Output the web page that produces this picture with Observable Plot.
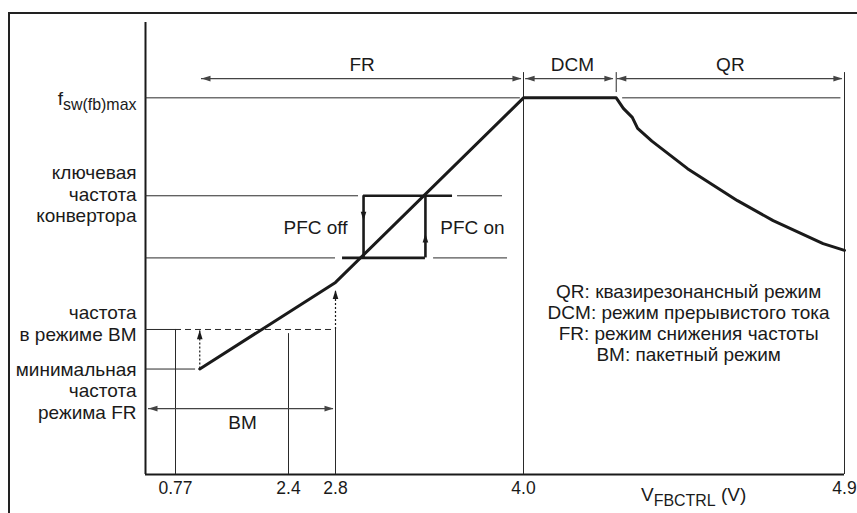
<!DOCTYPE html>
<html>
<head>
<meta charset="utf-8">
<script src="https://cdn.jsdelivr.net/npm/d3@7"></script>
<script src="https://cdn.jsdelivr.net/npm/@observablehq/plot@0.6"></script>
<style>
  body { margin: 0; background: #fff; }
  #wrap { position: relative; width: 857px; height: 513px; overflow: hidden; background: #fff; }
  #wrap svg { position: absolute; left: 0; top: 0; }
  #frame { position: absolute; left: 8px; top: 12px; width: 900px; height: 600px; border: 2px solid #222; pointer-events: none; }
</style>
</head>
<body>
<div id="wrap"><div id="frame"></div></div>
<script>
// ---- Data (schematic voltage V_FBCTRL in volts, frequency in relative units, f_max = 100) ----
const xBreaks = [0, 0.77, 2.4, 2.8, 4.0, 4.9];          // schematic (non-uniform) axis breakpoints
const xTicks = [0.77, 2.4, 2.8, 4.0, 4.9];
const xTickLabels = ["0.77", "2.4", "2.8", "4.0", "4.9"];

// main characteristic curve f_sw(V_FBCTRL)
const curveV = [1.12, 2.8, 4.0, 4.26, 4.28, 4.305, 4.32, 4.36, 4.46, 4.60, 4.70, 4.84, 4.90];
const curveF = [28, 51, 100, 100, 97.2, 94.8, 91.9, 88.5, 81.2, 72.7, 67.4, 61.3, 59.5];

// frequency levels
const fMax = 100, fKeyHi = 74, fKeyLo = 57.5, fBM = 38.5, fMin = 28;

// thin horizontal reference lines
const hLevel = [fMax, fMax, fKeyHi, fKeyHi, fKeyLo, fKeyLo, fMin, fBM];
const hFrom  = [0, 4.278, 0, 3.579, 0, 3.426, 0, 0];
const hTo    = [3.98, 4.89, 2.947, 3.866, 2.8, 3.898, 1.06, 0.77];

// dashed BM level
const dashFrom = [0.77], dashTo = [2.8], dashLevel = [fBM];

// thin vertical lines
const vAt   = [0.77, 2.4, 2.8, 4.0, 4.9, 4.26];
const vFrom = [0, 0, 0, 0, 0, 101.4];
const vTo   = [fBM, 37.4, fBM, 106.7, 106.7, 106.7];

// dotted vertical arrows (BM -> FR transitions)
const dotAt = [1.12, 2.8], dotFrom = [fMin, fBM], dotTo = [38.3, 49];

// hysteresis (PFC on/off) thick segments
const hystLevel = [fKeyHi, fKeyLo], hystFrom = [2.979, 2.845], hystTo = [3.547, 3.374];
const hystV = [2.979, 3.374];
const hystArrowV = [2.979, 3.374], hystArrowF = [67.4, 64], hystArrowDir = ["down", "up"];

// mode range arrows
const spanNames = ["BM", "FR", "DCM", "QR"];
const spanLevel = [17.5, 105.1, 105.1, 105.1];
const spanFrom  = [0.077, 1.145, 4.006, 4.263];
const spanTo    = [2.783, 3.987, 4.252, 4.894];
const spanLabelV = [1.737, 2.97, 4.137, 4.58];
const spanLabelF = [13.6, 108.8, 108.8, 108.8];

// y-side labels
const yLabels = ["f_{sw(fb)max}", "ключевая\nчастота\nконвертора", "частота\nв режиме BM", "минимальная\nчастота\nрежима FR"];
const yLabelF = [100, 74.5, 40.2, 22.3];

const pfcLabels = ["PFC off", "PFC on"], pfcV = [2.63, 3.674], pfcF = [65.6, 65.6];

const legendText = "QR: квазирезонансный режим\nDCM: режим прерывистого тока\nFR: режим снижения частоты\nBM: пакетный режим";
const legendV = 4.463, legendF = 40.2;

const xTitle = "V_{FBCTRL} (V)", xTitleV = 4.477, xTitleF = -5.4;

// ---- Build tables ----
const curve = curveV.map((v, i) => ({v, f: curveF[i]}));
const thinH = hLevel.map((f, i) => ({f, a: hFrom[i], b: hTo[i]}));
const dashH = dashLevel.map((f, i) => ({f, a: dashFrom[i], b: dashTo[i]}));
const thinV = vAt.map((v, i) => ({v, a: vFrom[i], b: vTo[i]}));
const dotV = dotAt.map((v, i) => ({v, a: dotFrom[i], b: dotTo[i]}));
const hystH = hystLevel.map((f, i) => ({f, a: hystFrom[i], b: hystTo[i]}));
const hystVert = hystV.map(v => ({v, a: fKeyLo, b: fKeyHi}));
const spans = spanLevel.map((f, i) => ({f, a: spanFrom[i], b: spanTo[i], name: spanNames[i], lv: spanLabelV[i], lf: spanLabelF[i]}));
const yLab = yLabels.map((t, i) => ({t, f: yLabelF[i]}));
const pfc = pfcLabels.map((t, i) => ({t, v: pfcV[i], f: pfcF[i]}));

// arrowhead symbols (tip at the anchor point)
const L = 9, W = 2.8;
const headUp    = {draw(c) { c.moveTo(0, 0); c.lineTo(W, L); c.lineTo(-W, L); c.closePath(); }};
const headDown  = {draw(c) { c.moveTo(0, 0); c.lineTo(W, -L); c.lineTo(-W, -L); c.closePath(); }};
const headLeft  = {draw(c) { c.moveTo(0, 0); c.lineTo(L, W); c.lineTo(L, -W); c.closePath(); }};
const headRight = {draw(c) { c.moveTo(0, 0); c.lineTo(-L, W); c.lineTo(-L, -W); c.closePath(); }};

const ink = "#1a1a1a", thin = "#2a2a2a", arrowInk = "#444";
const font = "'Liberation Sans', Arial, Helvetica, sans-serif";
const fs = 19;

const upHeads = [
  ...dotV.map(d => ({v: d.v, f: d.b})),
  ...hystArrowV.map((v, i) => ({v, f: hystArrowF[i], d: hystArrowDir[i]})).filter(d => d.d === "up")
];
const downHeads = hystArrowV.map((v, i) => ({v, f: hystArrowF[i], d: hystArrowDir[i]})).filter(d => d.d === "down");

const chart = Plot.plot({
  width: 857,
  height: 513,
  marginBottom: 39,
  marginTop: 22,
  marginLeft: 145,
  marginRight: 13,
  style: {fontFamily: font, fontSize: "17.5px", color: ink, background: "transparent", overflow: "visible"},
  x: {type: "linear", domain: xBreaks, range: [145, 175, 288, 335, 523, 844],
      ticks: xTicks, tickFormat: d => xTickLabels[xTicks.indexOf(d)], tickSize: 0, tickPadding: 7, label: null},
  y: {domain: [0, 120], range: [474, 22], axis: null},
  marks: [
    // axes lines
    Plot.ruleX([0], {y1: 0, y2: 120, stroke: ink, strokeWidth: 2}),
    Plot.ruleY([0], {x1: 0, x2: 4.9, stroke: ink, strokeWidth: 2}),
    // reference lines
    Plot.ruleY(thinH, {y: "f", x1: "a", x2: "b", stroke: thin, strokeWidth: 1}),
    Plot.ruleY(dashH, {y: "f", x1: "a", x2: "b", stroke: thin, strokeWidth: 1, strokeDasharray: "6,4"}),
    Plot.ruleX(thinV, {x: "v", y1: "a", y2: "b", stroke: thin, strokeWidth: 1}),
    Plot.ruleX(dotV, {x: "v", y1: "a", y2: "b", stroke: ink, strokeWidth: 1.2, strokeDasharray: "2,2"}),
    // mode span arrows
    Plot.ruleY(spans, {y: "f", x1: "a", x2: "b", stroke: arrowInk, strokeWidth: 1.2}),
    Plot.dot(spans, {x: "a", y: "f", symbol: headLeft, r: 4, fill: arrowInk, stroke: "none"}),
    Plot.dot(spans, {x: "b", y: "f", symbol: headRight, r: 4, fill: arrowInk, stroke: "none"}),
    Plot.text(spans, {x: "lv", y: "lf", text: "name", fill: ink, fontSize: fs}),
    // hysteresis box
    Plot.ruleY(hystH, {y: "f", x1: "a", x2: "b", stroke: ink, strokeWidth: 2.6}),
    Plot.ruleX(hystVert, {x: "v", y1: "a", y2: "b", stroke: ink, strokeWidth: 2.6}),
    Plot.dot(upHeads, {x: "v", y: "f", symbol: headUp, r: 4, fill: ink, stroke: "none"}),
    Plot.dot(downHeads, {x: "v", y: "f", symbol: headDown, r: 4, fill: ink, stroke: "none"}),
    // main curve
    Plot.line(curve, {x: "v", y: "f", stroke: ink, strokeWidth: 3}),
    // labels
    Plot.text(yLab, {x: 0, y: "f", text: "t", textAnchor: "end", dx: -9, lineHeight: 1.13, fill: ink, fontSize: fs}),
    Plot.text(pfc, {x: "v", y: "f", text: "t", fill: ink, fontSize: fs}),
    Plot.text([legendText], {x: legendV, y: legendF, text: d => d, lineHeight: 1.1, fill: ink, fontSize: fs}),
    Plot.text([xTitle], {x: xTitleV, y: xTitleF, text: d => d, fill: ink, fontSize: fs})
  ]
});

// render subscripts written as _{...}
d3.select(chart).selectAll("text").each(function() {
  const s = this.textContent;
  if (!s.includes("_{")) return;
  const el = d3.select(this);
  el.text(null);
  const parts = s.split(/(_\{[^}]*\})/).filter(p => p !== "");
  let lowered = false;
  for (const p of parts) {
    const m = p.match(/^_\{([^}]*)\}$/);
    if (m) {
      el.append("tspan").attr("font-size", "0.84em").attr("dy", "0.3em").text(m[1]);
      lowered = true;
    } else {
      const t = el.append("tspan").text(p);
      if (lowered) { t.attr("dy", "-0.25em"); lowered = false; }
    }
  }
});

const wrap = document.getElementById("wrap");
wrap.insertBefore(chart, document.getElementById("frame"));
</script>
</body>
</html>
